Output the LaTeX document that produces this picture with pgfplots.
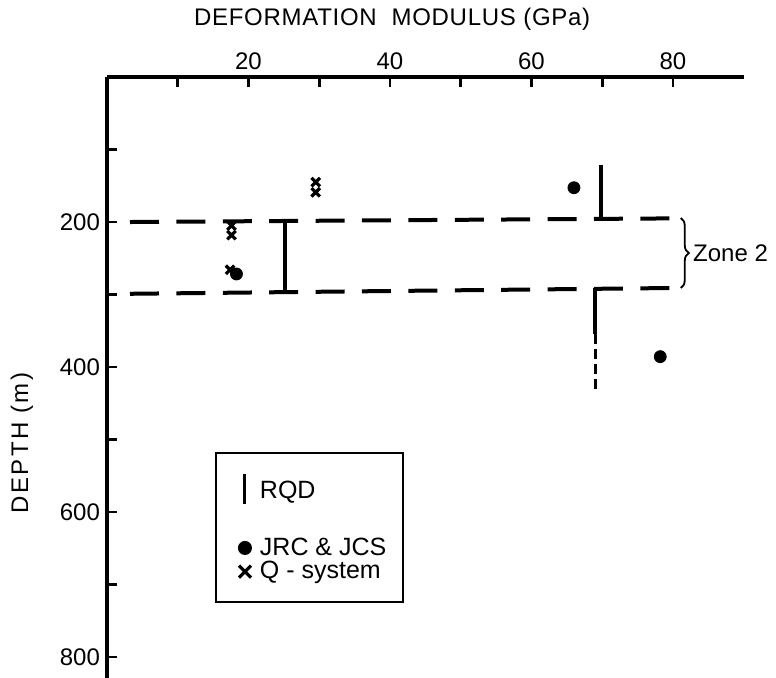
\documentclass[border=0pt]{standalone}
\usepackage{fontspec}
\setmainfont{Liberation Sans}
\newfontfamily\spacedA[LetterSpace=3]{Liberation Sans}
\newfontfamily\spacedB[LetterSpace=10]{Liberation Sans}
\usepackage{pgfplots}
\pgfplotsset{compat=1.18}
\usetikzlibrary{decorations.pathreplacing}
\begin{document}
\begin{tikzpicture}[font=\fontsize{12}{14}\selectfont]
\useasboundingbox (0pt,0pt) rectangle (388pt,338.5pt);
\begin{axis}[
  at={(53.5pt,300pt)}, anchor=north west,
  x=3.5375pt, y=0.3625pt, y dir=reverse,
  xmin=0, xmax=90, ymin=0, ymax=830,
  axis x line=top, axis y line=left,
  axis line style={line width=1.6pt, -},
  every outer x axis line/.append style={-},
  every outer y axis line/.append style={-},
  tick align=inside,
  major tick length=5pt,
  every tick/.style={line width=1.4pt, black},
  xtick={10,20,...,80}, xticklabels={,20,,40,,60,,80},
  ytick={100,200,...,800}, yticklabels={,200,,400,,600,,800},
  /pgf/number format/assume math mode=true,
  clip=false,
  legend cell align=left,
  legend style={at={(axis cs:15.26,517)}, anchor=north west, draw=black, line width=1pt,
    inner xsep=8.5pt, inner ysep=10pt, row sep=1.6pt, column sep=0pt,
    font=\fontsize{12.5}{15}\selectfont,
    nodes={inner sep=0pt}},
]
% zone boundaries
\addplot[forget plot, line width=2pt, dash pattern=on 14.5pt off 8.7pt] coordinates {(3.25,200) (80,195)};
\addplot[forget plot, line width=2pt, dash pattern=on 14.5pt off 8.7pt] coordinates {(3.25,299) (80,291)};
% RQD
\addplot[forget plot, line width=2pt] coordinates {(25.2,200) (25.2,299)};
\addplot[forget plot, line width=2pt] coordinates {(69.8,121) (69.8,195)};
\addplot[forget plot, line width=2pt] coordinates {(69.0,291) (69.0,355)};
\addplot[forget plot, line width=1.6pt, dash pattern=on 5pt off 2.5pt] coordinates {(69.0,355) (69.0,436)};
% Q-system
\addplot[forget plot, only marks, mark=x, mark size=3pt, line width=1.6pt, black] coordinates {
 (29.5,145) (29.5,159) (17.6,205) (17.6,218) (17.4,266)};
% JRC & JCS
\addplot[forget plot, only marks, mark=*, mark size=3pt, black] coordinates {
 (66.0,152.7) (78.2,385.7) (18.3,271.7)};
% legend
\addlegendimage{legend image code/.code={\draw[line width=1.5pt] (0.55em,-0.62em) -- (0.55em,0.86em); \path (0pt,-2.1em) (1.25em,0pt);}}
\addlegendentry{RQD}
\addlegendimage{legend image code/.code={\fill[black] (0.55em,0pt) circle[radius=3pt]; \path (0pt,0pt) (1.25em,0pt);}}
\addlegendentry{JRC \& JCS}
\addlegendimage{legend image code/.code={\draw[line width=1.6pt] (0.55em-3pt,-3pt) -- (0.55em+3pt,3pt) (0.55em-3pt,3pt) -- (0.55em+3pt,-3pt); \path (0pt,0pt) (1.25em,0pt);}}
\addlegendentry{Q - system}
% brace and labels
\draw[decorate, decoration={brace, amplitude=4pt}, line width=0.9pt] (axis cs:81.1,194.5) -- (axis cs:81.1,291);
\node[anchor=west, inner sep=0pt] at (axis cs:82.8,243) {Zone 2};
\node[anchor=south, inner sep=0pt] at (axis cs:40.3,0) [yshift=23pt] {\spacedA DEFORMATION\ \ MODULUS (GPa)};
\node[inner sep=0pt, rotate=90] at ([xshift=-42.5pt]axis cs:0,505) {\spacedB DEPTH (m)};
\end{axis}
\end{tikzpicture}
\end{document}
